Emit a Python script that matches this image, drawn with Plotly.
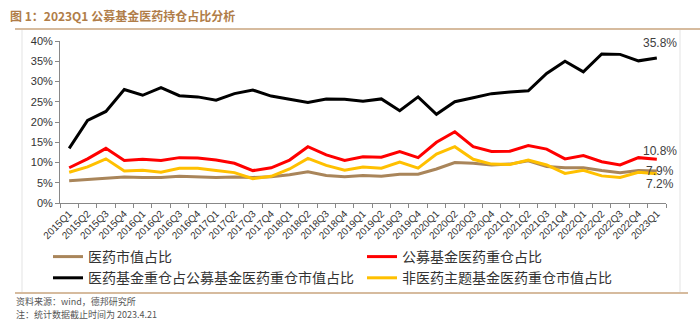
import plotly.graph_objects as go

quarters = [f"{y}Q{q}" for y in range(2015, 2023) for q in range(1, 5)] + ["2023Q1"]

pharma_mkt_share = [5.5, 5.8, 6.2, 6.4, 6.3, 6.3, 6.6, 6.5, 6.3, 6.4, 6.3, 6.5, 7.0, 7.7, 6.8, 6.5,
                    6.8, 6.6, 7.1, 7.1, 8.4, 10.0, 9.8, 9.4, 9.6, 10.4, 9.0, 8.7, 8.7, 8.0, 7.5, 8.0, 7.9]
fund_pharma_share = [8.7, 10.9, 13.5, 10.5, 10.8, 10.5, 11.2, 11.1, 10.6, 9.8, 8.0, 8.7, 10.6, 13.9, 11.9, 10.5,
                     11.4, 11.3, 12.7, 11.2, 15.0, 17.6, 13.9, 12.7, 12.8, 14.2, 13.3, 10.9, 11.7, 10.2, 9.4, 11.2, 10.8]
pharma_fund_share = [13.5, 20.4, 22.6, 28.0, 26.6, 28.5, 26.5, 26.2, 25.4, 27.0, 27.9, 26.4, 25.6, 24.8, 25.7, 25.6,
                     25.1, 25.7, 22.8, 26.2, 21.9, 25.0, 26.0, 27.0, 27.4, 27.7, 32.0, 35.0, 32.4, 36.8, 36.7, 35.1, 35.8]
non_pharma_fund_share = [7.6, 8.9, 10.9, 7.9, 8.1, 7.6, 8.6, 8.6, 8.0, 7.5, 6.0, 6.6, 8.4, 11.0, 9.3, 8.1,
                         8.9, 8.6, 10.1, 8.6, 12.1, 13.9, 10.8, 9.6, 9.5, 10.6, 9.4, 7.3, 8.1, 6.7, 6.3, 7.6, 7.2]

series = [
    ("医药市值占比", pharma_mkt_share, "#A9855A", "legend"),
    ("公募基金医药重仓占比", fund_pharma_share, "#FF0000", "legend2"),
    ("医药基金重仓占公募基金医药重仓市值占比", pharma_fund_share, "#000000", "legend"),
    ("非医药主题基金医药重仓市值占比", non_pharma_fund_share, "#FFC000", "legend2"),
]

fig = go.Figure()
for name, vals, col, lg in series:
    fig.add_trace(go.Scatter(x=quarters, y=vals, name=name, mode="lines", legend=lg,
                             line=dict(color=col, width=3)))

# end labels
end_labels = [(pharma_fund_share[-1], 15), (fund_pharma_share[-1], 8),
              (pharma_mkt_share[-1], 0), (non_pharma_fund_share[-1], -10)]
for v, ys in end_labels:
    fig.add_annotation(x=quarters[-1], y=v, text=f"{v:.1f}%", showarrow=False,
                       xshift=3, yshift=ys, font=dict(family="Arial, Liberation Sans", size=12, color="#404040"))

W, H = 700, 327
L, R, T, B = 60, 34, 41, 124
pw, ph = W - L - R, H - T - B

def px(x):
    return (x - L) / pw

def py(y):
    return (H - B - y) / ph

# title & footers
fig.add_annotation(xref="paper", yref="paper", x=px(8), y=py(16), xanchor="left", yanchor="middle",
                   text="<b>图 1：2023Q1 公募基金医药持仓占比分析</b>", showarrow=False,
                   font=dict(family="Noto Sans CJK SC", size=12, color="#B07D48"))
fig.add_annotation(xref="paper", yref="paper", x=px(14), y=py(301), xanchor="left", yanchor="middle",
                   text="资料来源：wind，德邦研究所", showarrow=False,
                   font=dict(family="Noto Sans CJK SC", size=9, color="#555555"))
fig.add_annotation(xref="paper", yref="paper", x=px(14), y=py(314), xanchor="left", yanchor="middle",
                   text="注：统计数据截止时间为 2023.4.21", showarrow=False,
                   font=dict(family="Noto Sans CJK SC", size=9, color="#555555"))

shapes = [
    dict(type="line", xref="paper", yref="paper", x0=px(15), x1=px(700), y0=py(29), y1=py(29),
         line=dict(color="#C8A47E", width=1.5)),
    dict(type="line", xref="paper", yref="paper", x0=px(15), x1=px(688), y0=py(293), y1=py(293),
         line=dict(color="#C8A47E", width=1.5)),
    dict(type="line", xref="paper", yref="paper", x0=px(22), x1=px(22), y0=py(30), y1=py(292),
         line=dict(color="#E3E3E3", width=1)),
    dict(type="line", xref="paper", yref="paper", x0=px(680), x1=px(680), y0=py(30), y1=py(292),
         line=dict(color="#E3E3E3", width=1)),
]

legend_common = dict(orientation="v", xanchor="left", yanchor="top", tracegroupgap=0, itemwidth=30,
                     bgcolor="rgba(0,0,0,0)",
                     font=dict(family="Noto Sans CJK SC", size=14, color="#333333"))

fig.update_layout(
    width=W, height=H,
    margin=dict(l=L, r=R, t=T, b=B, autoexpand=False),
    paper_bgcolor="white", plot_bgcolor="white",
    shapes=shapes,
    showlegend=True,
    legend=dict(x=px(48), y=py(241), **legend_common),
    legend2=dict(x=px(362), y=py(241), **legend_common),
    xaxis=dict(type="category", showgrid=False, showline=True, linecolor="#888888", linewidth=1,
               ticks="outside", ticklen=4, tickcolor="#888888", tickson="boundaries",
               tickangle=-45, tickfont=dict(family="Arial, Liberation Sans", size=10, color="#333333"),
               range=[-0.5, len(quarters) - 0.5]),
    yaxis=dict(range=[0, 40], dtick=5, ticksuffix="%", showgrid=False, showline=True,
               linecolor="#888888", linewidth=1, ticks="outside", ticklen=4, tickcolor="#888888",
               tickfont=dict(family="Arial, Liberation Sans", size=11, color="#333333"), zeroline=False),
)

fig.write_html("out.html")
